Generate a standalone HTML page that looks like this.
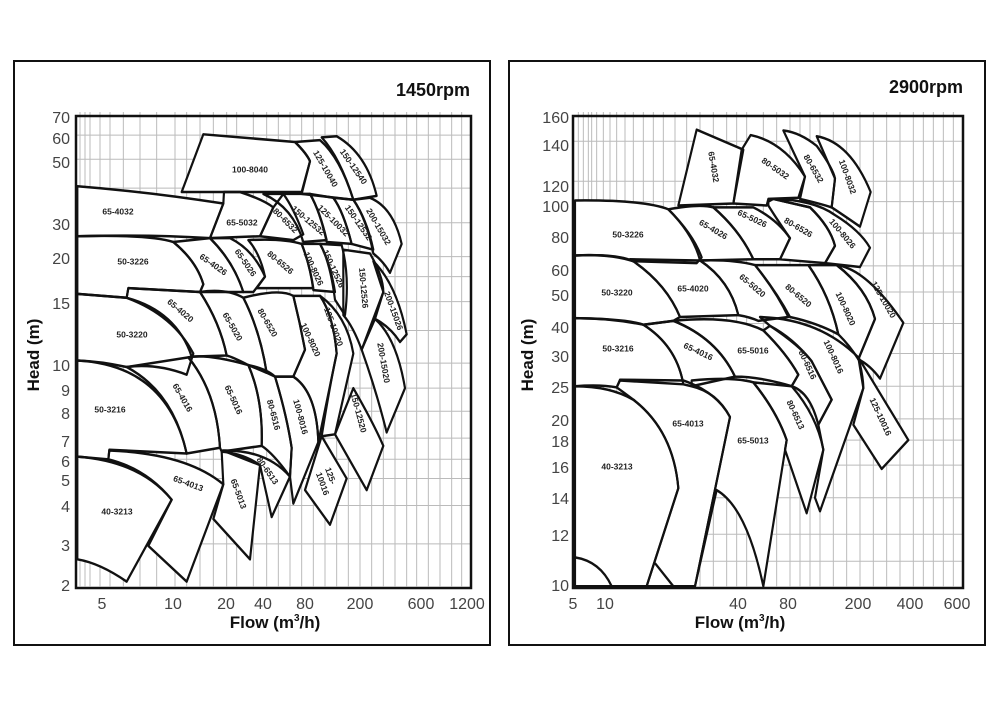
<!DOCTYPE html>
<html><head><meta charset="utf-8"><style>
html,body{margin:0;padding:0;background:#fff;}
svg{display:block;}
.ax{font-family:"Liberation Sans",sans-serif;font-size:16px;fill:#444;}
.lb{font-family:"Liberation Sans",sans-serif;font-size:8.5px;font-weight:bold;fill:#222;}
.tt{font-family:"Liberation Sans",sans-serif;font-weight:bold;fill:#111;}
.g{stroke:#bbb;stroke-width:1;fill:none;}
.f{fill:#fff;stroke:none;}
.s{fill:none;stroke:#111;stroke-width:6.5;stroke-linejoin:round;}
</style></head><body>
<svg width="1000" height="712" viewBox="0 0 1000 712" xmlns="http://www.w3.org/2000/svg">
<defs>
<g id="LS">
<path d="M232,1068 Q420,1080 515,1180 L380,1393 Q300,1345 232,1335 Z"/>
<path d="M328,1052 Q560,1060 670,1140 L560,1393 L445,1300 L515,1180 Q440,1100 325,1075 Z"/>
<path d="M665,1055 Q730,1060 780,1090 L750,1335 L640,1230 L670,1140 Z"/>
<path d="M668,1052 Q800,1050 870,1120 L815,1225 L780,1090 Z"/>
<path d="M232,818 Q500,830 560,1060 L328,1050 L325,1075 L232,1068 Z"/>
<path d="M380,835 L565,810 Q650,900 660,1045 L560,1060 Q520,900 380,835 Z"/>
<path d="M565,810 Q620,800 745,830 Q790,920 785,1040 L665,1055 L660,1045 Q650,900 565,810 Z"/>
<path d="M745,830 Q800,840 825,860 Q860,960 875,1045 L870,1120 Q820,1060 785,1040 Q790,920 745,830 Z"/>
<path d="M825,860 L880,860 Q950,900 955,1030 L880,1190 L870,1120 L875,1045 Q860,960 825,860 Z"/>
<path d="M965,1015 L1040,1125 L990,1245 L915,1155 Z"/>
<path d="M1005,1010 L1060,890 Q1120,980 1150,1040 L1100,1155 Z"/>
<path d="M232,645 L380,655 Q520,700 580,800 L560,855 Q470,825 380,835 Q300,820 232,818 Z"/>
<path d="M385,630 L600,640 Q660,720 680,805 L575,808 Q530,690 380,655 Z"/>
<path d="M600,640 Q680,630 730,655 Q780,740 800,850 L745,830 Q700,810 680,805 Q660,720 600,640 Z"/>
<path d="M730,655 Q840,630 880,650 Q900,720 915,790 L880,860 L825,860 L800,850 Q780,740 730,655 Z"/>
<path d="M880,650 L960,650 Q1000,700 1010,800 L955,1030 Q950,900 880,860 L915,790 Q900,720 880,650 Z"/>
<path d="M960,650 Q1040,700 1060,800 L1005,1010 L965,1015 Q990,880 1010,800 Q1000,700 960,650 Z"/>
<path d="M1030,530 L1110,540 Q1150,600 1150,640 L1085,790 Q1060,730 1030,700 Z"/>
<path d="M1085,790 L1125,710 Q1190,760 1215,890 L1160,1005 Q1130,900 1085,790 Z"/>
<path d="M1120,560 Q1190,620 1220,750 L1200,770 Q1170,730 1125,710 L1150,640 Z"/>
<path d="M232,495 Q450,490 520,510 Q590,560 610,620 L600,640 L385,630 L380,655 L232,645 Z"/>
<path d="M520,510 L630,500 Q700,560 730,640 L600,640 L610,620 Q590,560 520,510 Z"/>
<path d="M630,500 L690,500 Q760,530 795,600 L760,640 L730,640 Q700,560 630,500 Z"/>
<path d="M745,505 Q850,500 905,515 Q930,570 940,630 L770,630 L795,600 Q780,540 745,505 Z"/>
<path d="M905,515 L960,515 Q990,560 1005,640 L940,635 Q930,570 905,515 Z"/>
<path d="M960,515 L1025,518 Q1050,600 1035,700 L1005,660 Q990,560 960,515 Z"/>
<path d="M232,365 Q450,380 670,410 L630,500 Q450,490 232,495 Z"/>
<path d="M672,380 L720,380 Q790,400 820,420 L780,495 L630,500 L670,410 Z"/>
<path d="M820,420 L850,385 Q880,420 910,490 L880,505 L780,495 Z"/>
<path d="M790,385 L930,385 Q960,430 980,505 L910,510 Q880,420 790,385 Z"/>
<path d="M930,385 L1000,395 Q1030,430 1055,515 L980,510 Q960,430 930,385 Z"/>
<path d="M1000,395 L1060,400 Q1100,450 1120,530 L1055,515 Q1030,430 1000,395 Z"/>
<path d="M1060,400 L1110,395 Q1180,420 1205,515 L1170,590 Q1150,560 1120,540 Q1100,450 1060,400 Z"/>
<path d="M610,230 L885,250 Q920,280 930,300 L905,380 L545,380 Z"/>
<path d="M885,250 L960,245 Q1020,290 1060,400 L905,385 L930,300 Q920,280 885,250 Z"/>
<path d="M965,238 L1010,235 Q1100,280 1130,390 L1060,400 Q1020,290 965,238 Z"/>
</g>
<g id="RS">
<path d="M225,885 Q330,885 400,920 Q520,1000 535,1150 L440,1405 L225,1405 Z"/>
<path d="M225,1330 Q300,1340 335,1405"/>
<path d="M225,708 Q380,710 430,725 Q530,780 550,880 L360,870 L350,888 Q300,880 225,885 Z"/>
<path d="M360,868 L550,870 Q650,900 690,965 L585,1405 L440,1405 L535,1150 Q520,1000 400,920 Q370,900 350,888 Z"/>
<path d="M465,1345 L520,1405"/>
<path d="M430,725 L520,715 Q650,760 705,860 L575,885 L550,880 Q530,780 430,725 Z"/>
<path d="M520,715 Q700,700 790,740 Q860,800 895,855 L875,885 Q780,860 705,860 Q650,760 520,715 Z"/>
<path d="M575,870 Q700,860 760,875 Q830,950 860,1025 L790,1405 Q740,1200 650,1155 L585,1405 L690,965 Q650,900 575,885 Z"/>
<path d="M760,875 L875,885 Q950,960 970,1050 L920,1215 L855,1050 L860,1025 Q830,950 760,875 Z"/>
<path d="M790,740 L810,728 Q900,780 935,820 L995,920 L955,985 Q930,900 875,885 L895,855 Q860,800 790,740 Z"/>
<path d="M780,705 Q960,710 1075,810 Q1090,860 1090,890 L960,1210 L945,1175 L970,1050 L955,985 L995,920 L935,820 Q880,760 810,728 Z"/>
<path d="M1075,810 L1225,1025 L1145,1100 L1060,985 L1090,890 Z"/>
<path d="M225,545 Q350,540 400,560 Q500,620 540,705 L520,715 L430,725 Q330,708 225,708 Z"/>
<path d="M390,555 L600,558 Q690,610 715,700 L540,705 Q500,620 400,560 Z"/>
<path d="M600,558 Q700,555 765,570 Q830,640 865,705 L775,715 Q750,705 715,700 Q690,610 600,558 Z"/>
<path d="M765,570 L925,570 Q990,650 1015,750 Q950,720 870,705 Q830,640 765,570 Z"/>
<path d="M925,570 L1010,570 Q1100,630 1125,710 L1075,815 Q1050,780 1015,750 Q990,650 925,570 Z"/>
<path d="M1010,570 Q1100,580 1210,720 L1140,865 Q1110,830 1075,815 L1125,710 Q1100,630 1010,570 Z"/>
<path d="M225,402 Q430,400 505,425 Q580,490 605,550 L590,565 L400,560 Q330,540 225,545 Z"/>
<path d="M505,425 Q600,410 640,420 Q720,480 760,555 L600,558 Q580,490 505,425 Z"/>
<path d="M640,420 L760,420 Q830,450 870,500 L840,555 L760,555 Q720,480 640,420 Z"/>
<path d="M805,405 L820,398 Q880,410 930,420 Q990,470 1005,520 L975,565 L840,555 L870,500 Q830,450 805,415 Z"/>
<path d="M820,398 Q940,400 1005,440 Q1080,480 1110,525 L1080,575 L975,565 L1005,520 Q990,470 930,420 Z"/>
<path d="M590,218 L730,270 L700,410 L535,415 Z"/>
<path d="M725,270 L752,232 Q850,250 915,340 L895,395 L805,398 L800,415 L700,410 Z"/>
<path d="M850,220 Q900,225 950,260 Q1000,320 1005,345 L995,420 Q960,410 900,398 L915,340 Z"/>
<path d="M950,235 Q1050,250 1112,380 L1080,470 Q1030,440 995,420 L1005,345 Z"/>
</g>
</defs>

<rect x="14" y="61" width="476" height="584" fill="none" stroke="#111" stroke-width="2"/>
<rect x="509" y="61" width="476" height="584" fill="none" stroke="#111" stroke-width="2"/>

<!-- LEFT -->
<g transform="translate(0,45.85) scale(0.33333,0.384615)">
<path class="g" vector-effect="non-scaling-stroke" d="M240,172V1405M255,172V1405M270,172V1405M300,172V1405M330,172V1405M370,172V1405M420,172V1405M470,172V1405M525,172V1405M560,172V1405M600,172V1405M640,172V1405M680,172V1405M710,172V1405M760,172V1405M800,172V1405M835,172V1405M870,172V1405M905,172V1405M940,172V1405M975,172V1405M1010,172V1405M1045,172V1405M1080,172V1405M1115,172V1405M1150,172V1405M1185,172V1405M1220,172V1405M1250,172V1405M1285,172V1405M1320,172V1405M1355,172V1405M1385,172V1405
M228,232H1415M228,295H1415M228,370H1415M228,460H1415M228,548H1415M228,600H1415M228,665H1415M228,740H1415M228,825H1415M228,890H1415M228,950H1415M228,1020H1415M228,1075H1415M228,1125H1415M228,1195H1415M228,1295H1415"/>
<use href="#LS" class="f"/>
<use href="#LS" class="s"/>
</g>
<rect x="76" y="116" width="395" height="472" fill="none" stroke="#111" stroke-width="2.5"/>

<g class="ax" text-anchor="end">
<text x="70" y="123">70</text><text x="70" y="144">60</text><text x="70" y="168">50</text>
<text x="70" y="230">30</text><text x="70" y="264">20</text><text x="70" y="309">15</text>
<text x="70" y="371">10</text><text x="70" y="396">9</text><text x="70" y="419">8</text>
<text x="70" y="447">7</text><text x="70" y="467">6</text><text x="70" y="486">5</text>
<text x="70" y="512">4</text><text x="70" y="551">3</text><text x="70" y="591">2</text>
</g>
<g class="ax" text-anchor="middle">
<text x="102" y="609">5</text><text x="173" y="609">10</text><text x="226" y="609">20</text>
<text x="263" y="609">40</text><text x="305" y="609">80</text><text x="360" y="609">200</text>
<text x="421" y="609">600</text><text x="467" y="609">1200</text>
</g>
<text class="tt" x="275" y="628" font-size="17" text-anchor="middle">Flow (m<tspan font-size="10" dy="-7">3</tspan><tspan dy="7">/h)</tspan></text>
<text class="tt" x="0" y="0" font-size="17" text-anchor="middle" transform="translate(39,355) rotate(-90)">Head (m)</text>
<text class="tt" x="470" y="96" font-size="18" text-anchor="end">1450rpm</text>

<g class="lb" text-anchor="middle" dominant-baseline="middle">
<text x="250" y="170">100-8040</text>
<text transform="translate(325,169) rotate(60)">125-10040</text>
<text transform="translate(353,167) rotate(55)">150-12540</text>
<text x="118" y="212">65-4032</text>
<text x="242" y="223">65-5032</text>
<text transform="translate(285,221) rotate(45)">80-6532</text>
<text transform="translate(308,221) rotate(40)">150-12532</text>
<text transform="translate(333,221) rotate(45)">125-10032</text>
<text transform="translate(358,223) rotate(55)">150-12532</text>
<text transform="translate(378,227) rotate(60)">200-15032</text>
<text x="133" y="262">50-3226</text>
<text transform="translate(213,265) rotate(35)">65-4026</text>
<text transform="translate(245,263) rotate(55)">65-5026</text>
<text transform="translate(280,263) rotate(40)">80-6526</text>
<text transform="translate(313,269) rotate(65)">100-8026</text>
<text transform="translate(333,269) rotate(65)">150-12526</text>
<text transform="translate(363,288) rotate(85)">150-12526</text>
<text transform="translate(393,311) rotate(70)">200-15026</text>
<text x="132" y="335">50-3220</text>
<text transform="translate(180,311) rotate(40)">65-4020</text>
<text transform="translate(232,327) rotate(60)">65-5020</text>
<text transform="translate(267,323) rotate(60)">80-6520</text>
<text transform="translate(310,340) rotate(65)">100-8020</text>
<text transform="translate(333,327) rotate(70)">125-10020</text>
<text transform="translate(383,363) rotate(80)">200-15020</text>
<text x="110" y="410">50-3216</text>
<text transform="translate(182,398) rotate(60)">65-4016</text>
<text transform="translate(233,400) rotate(65)">65-5016</text>
<text transform="translate(273,415) rotate(75)">80-6516</text>
<text transform="translate(300,417) rotate(75)">100-8016</text>
<text transform="translate(358,413) rotate(75)">150-12520</text>
<text transform="translate(330,476) rotate(70)">125-</text>
<text transform="translate(322,484) rotate(70)">10016</text>
<text x="117" y="512">40-3213</text>
<text transform="translate(188,484) rotate(20)">65-4013</text>
<text transform="translate(238,494) rotate(70)">65-5013</text>
<text transform="translate(267,471) rotate(55)">80-6513</text>
</g>

<!-- RIGHT -->
<g transform="translate(500,45.85) scale(0.33333,0.384615)">
<path class="g" vector-effect="non-scaling-stroke" d="M235,172V1405M250,172V1405M265,172V1405M275,172V1405M290,172V1405M310,172V1405M330,172V1405M350,172V1405M375,172V1405M400,172V1405M430,172V1405M460,172V1405M490,172V1405M525,172V1405M560,172V1405M600,172V1405M640,172V1405M680,172V1405M710,172V1405M740,172V1405M790,172V1405M830,172V1405M870,172V1405M900,172V1405M930,172V1405M960,172V1405M1000,172V1405M1040,172V1405M1080,172V1405M1120,172V1405M1160,172V1405M1200,172V1405M1240,172V1405M1270,172V1405M1300,172V1405M1330,172V1405M1360,172V1405
M222,248H1390M222,352H1390M222,405H1390M222,487H1390M222,572H1390M222,640H1390M222,722H1390M222,800H1390M222,885H1390M222,970H1390M222,1025H1390M222,1090H1390M222,1175H1390M222,1270H1390M222,1340H1390"/>
<use href="#RS" class="f"/>
<use href="#RS" class="s"/>
</g>
<rect x="573" y="116" width="390" height="472" fill="none" stroke="#111" stroke-width="2.5"/>

<g class="ax" text-anchor="end">
<text x="569" y="123">160</text><text x="569" y="151">140</text><text x="569" y="192">120</text>
<text x="569" y="212">100</text><text x="569" y="243">80</text><text x="569" y="276">60</text>
<text x="569" y="301">50</text><text x="569" y="333">40</text><text x="569" y="362">30</text>
<text x="569" y="393">25</text><text x="569" y="426">20</text><text x="569" y="447">18</text>
<text x="569" y="473">16</text><text x="569" y="504">14</text><text x="569" y="541">12</text>
<text x="569" y="591">10</text>
</g>
<g class="ax" text-anchor="middle">
<text x="573" y="609">5</text><text x="605" y="609">10</text><text x="738" y="609">40</text>
<text x="788" y="609">80</text><text x="858" y="609">200</text><text x="910" y="609">400</text>
<text x="957" y="609">600</text>
</g>
<text class="tt" x="740" y="628" font-size="17" text-anchor="middle">Flow (m<tspan font-size="10" dy="-7">3</tspan><tspan dy="7">/h)</tspan></text>
<text class="tt" x="0" y="0" font-size="17" text-anchor="middle" transform="translate(533,355) rotate(-90)">Head (m)</text>
<text class="tt" x="963" y="93" font-size="18" text-anchor="end">2900rpm</text>

<g class="lb" text-anchor="middle" dominant-baseline="middle">
<text transform="translate(713,167) rotate(80)">65-4032</text>
<text transform="translate(775,169) rotate(35)">80-5032</text>
<text transform="translate(813,169) rotate(60)">80-6532</text>
<text transform="translate(847,177) rotate(70)">100-8032</text>
<text x="628" y="235">50-3226</text>
<text transform="translate(713,230) rotate(30)">65-4026</text>
<text transform="translate(752,219) rotate(25)">65-5026</text>
<text transform="translate(798,228) rotate(30)">80-6526</text>
<text transform="translate(842,234) rotate(50)">100-8026</text>
<text x="617" y="293">50-3220</text>
<text x="693" y="289">65-4020</text>
<text transform="translate(752,286) rotate(40)">65-5020</text>
<text transform="translate(798,296) rotate(40)">80-6520</text>
<text transform="translate(845,309) rotate(65)">100-8020</text>
<text transform="translate(883,300) rotate(60)">125-10020</text>
<text x="618" y="349">50-3216</text>
<text transform="translate(698,352) rotate(25)">65-4016</text>
<text x="753" y="351">65-5016</text>
<text transform="translate(807,365) rotate(65)">80-6516</text>
<text transform="translate(833,357) rotate(65)">100-8016</text>
<text transform="translate(880,417) rotate(65)">125-10016</text>
<text x="688" y="424">65-4013</text>
<text x="753" y="441">65-5013</text>
<text transform="translate(795,415) rotate(65)">80-6513</text>
<text x="617" y="467">40-3213</text>
</g>
</svg>
</body></html>
